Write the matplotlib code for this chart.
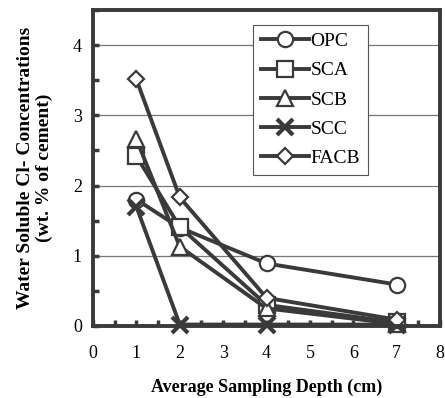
import matplotlib.pyplot as plt
from matplotlib.ticker import MultipleLocator

plt.rcParams['font.family'] = ['Liberation Serif', 'DejaVu Serif']

# Sampling depth (cm)
depth = [1, 2, 4, 7]

# Water soluble chloride, wt. % of cement
opc = [1.80, 1.40, 0.89, 0.59]
sca = [2.42, 1.41, 0.30, 0.05]
scb = [2.66, 1.13, 0.25, 0.03]
scc = [1.70, 0.02, 0.02, 0.02]
facb = [3.51, 1.83, 0.40, 0.09]

labels = ['OPC', 'SCA', 'SCB', 'SCC', 'FACB']
series = [opc, sca, scb, scc, facb]
markers = ['o', 's', '^', 'x', 'D']
msizes = [11, 11, 11, 11, 8]

ink = '#3a3a3a'

fig = plt.figure(figsize=(4.45, 3.98), dpi=100)
ax = fig.add_axes([0.209, 0.181, 0.780, 0.794])

for vals, lab, m, ms in zip(series, labels, markers, msizes):
    ax.plot(depth, vals, color=ink, lw=2.8, marker=m, markersize=ms,
            markerfacecolor='white', markeredgecolor=ink,
            markeredgewidth=1.6 if m != 'x' else 3.0, label=lab, clip_on=False)

ax.set_xlim(0, 8)
ax.set_ylim(0, 4.5)
ax.xaxis.set_major_locator(MultipleLocator(1))
ax.xaxis.set_minor_locator(MultipleLocator(0.5))
ax.yaxis.set_major_locator(MultipleLocator(1))
ax.yaxis.set_minor_locator(MultipleLocator(0.5))
ax.tick_params(which='both', direction='in', length=4, width=2.5, color=ink,
               top=False, right=False)
ax.tick_params(which='major', labelsize=13)
ax.tick_params(axis='x', which='major', pad=14)
ax.tick_params(axis='y', which='major', pad=8)

ax.yaxis.grid(True, which='major', color='#777777', lw=0.9)
ax.set_axisbelow(True)

for s in ax.spines.values():
    s.set_linewidth(2.8)
    s.set_color(ink)

ax.set_xlabel('Average Sampling Depth (cm)', fontsize=13, fontweight='bold',
              labelpad=12)
ax.set_ylabel('Water Soluble Cl- Concentrations\n(wt. % of cement)',
              fontsize=14, fontweight='bold', labelpad=14, linespacing=1.15)

leg = ax.legend(loc='upper left', bbox_to_anchor=(0.461, 0.953), fontsize=14,
                handlelength=2.5, handletextpad=0.05, borderpad=0.4,
                labelspacing=0.6, borderaxespad=0, fancybox=False,
                framealpha=1, edgecolor='#555555')
leg.get_frame().set_linewidth(0.8)

fig.savefig('out.png', dpi=100)
